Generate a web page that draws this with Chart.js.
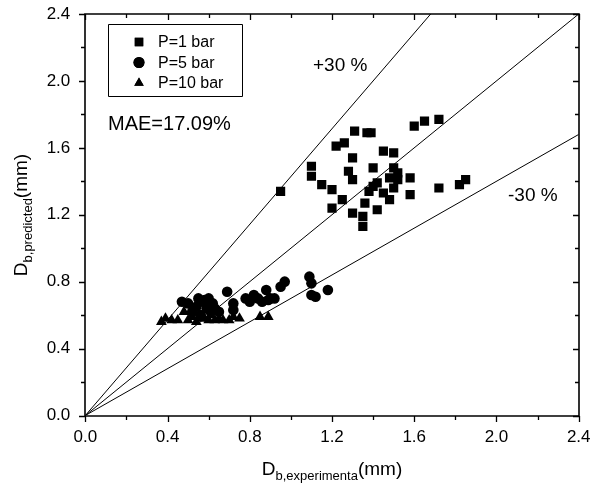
<!DOCTYPE html>
<html>
<head>
<meta charset="utf-8">
<script src="https://cdn.jsdelivr.net/npm/chart.js@4.4.1/dist/chart.umd.min.js"></script>
<style>
  body { margin: 0; background: #fff; }
  #wrap { width: 592px; height: 492px; position: relative; }
</style>
</head>
<body>
<div id="wrap"><canvas id="chart"></canvas></div>
<script>
// axis ticks
const tickValues = [0.0, 0.4, 0.8, 1.2, 1.6, 2.0, 2.4];

// P = 1 bar (squares)
const p1X = [0.95, 1.10, 1.10, 1.15, 1.20, 1.20, 1.25, 1.22, 1.26, 1.31, 1.37, 1.39, 1.30, 1.28, 1.30, 1.30, 1.35, 1.35, 1.36, 1.38, 1.40, 1.42, 1.40, 1.42, 1.45, 1.48, 1.45, 1.50, 1.50, 1.52, 1.48, 1.52, 1.50, 1.58, 1.58, 1.60, 1.65, 1.72, 1.72, 1.82, 1.85];
const p1Y = [1.34, 1.49, 1.43, 1.38, 1.35, 1.24, 1.29, 1.61, 1.63, 1.70, 1.69, 1.69, 1.54, 1.46, 1.41, 1.21, 1.19, 1.13, 1.27, 1.34, 1.37, 1.39, 1.48, 1.23, 1.33, 1.29, 1.58, 1.57, 1.48, 1.45, 1.42, 1.41, 1.36, 1.42, 1.32, 1.73, 1.76, 1.77, 1.36, 1.38, 1.41];

// P = 5 bar (circles)
const p5X = [0.47, 0.50, 0.52, 0.54, 0.55, 0.56, 0.57, 0.58, 0.59, 0.60, 0.61, 0.62, 0.63, 0.65, 0.69, 0.72, 0.72, 0.78, 0.80, 0.82, 0.84, 0.86, 0.88, 0.89, 0.90, 0.92, 0.95, 0.97, 1.09, 1.10, 1.10, 1.12, 1.18];
const p5Y = [0.68, 0.67, 0.62, 0.65, 0.70, 0.60, 0.68, 0.69, 0.64, 0.70, 0.62, 0.67, 0.64, 0.62, 0.74, 0.67, 0.63, 0.70, 0.68, 0.72, 0.70, 0.68, 0.75, 0.69, 0.70, 0.70, 0.77, 0.80, 0.83, 0.79, 0.72, 0.71, 0.75];

// P = 10 bar (triangles)
const p10X = [0.37, 0.39, 0.42, 0.45, 0.48, 0.50, 0.52, 0.54, 0.56, 0.58, 0.60, 0.61, 0.63, 0.65, 0.67, 0.70, 0.72, 0.75, 0.85, 0.89];
const p10Y = [0.56, 0.58, 0.57, 0.57, 0.62, 0.57, 0.59, 0.56, 0.58, 0.58, 0.57, 0.60, 0.57, 0.58, 0.57, 0.57, 0.59, 0.58, 0.59, 0.59];

// reference lines: y = x/0.7, y = x, y = 0.7x (end points)
const lineX = [0, 2.4];
const plusLineY = [0, 3.4286];
const equalLineY = [0, 2.4];
const minusLineY = [0, 1.68];

const FONT = '"Liberation Sans", Arial, sans-serif';

function toPoints(xs, ys) {
    return xs.map((x, i) => ({ x: x, y: ys[i] }));
}

// frame, tick marks, titles, legend and text labels
const decorations = {
    id: 'decorations',
    afterDraw(chart) {
        const ctx = chart.ctx;
        const xs = chart.scales.x;
        const ys = chart.scales.y;
        const L = Math.round(xs.getPixelForValue(0)), R = Math.round(xs.getPixelForValue(2.4));
        const B = Math.round(ys.getPixelForValue(0)), T = Math.round(ys.getPixelForValue(2.4));
        ctx.save();
        ctx.fillStyle = '#000000';
        ctx.strokeStyle = '#000000';

        // frame
        ctx.lineWidth = 1.6;
        ctx.beginPath();
        ctx.rect(L, T, R - L, B - T);
        ctx.stroke();

        // tick marks every 0.2, longer on labelled values
        ctx.lineWidth = 1.3;
        ctx.beginPath();
        for (let i = 0; i <= 12; i++) {
            const len = i % 2 === 0 ? 6 : 4;
            const px = Math.round(xs.getPixelForValue(i * 0.2)) + 0.5;
            const py = Math.round(ys.getPixelForValue(i * 0.2)) + 0.5;
            ctx.moveTo(px, B); ctx.lineTo(px, B + len);
            ctx.moveTo(px, T); ctx.lineTo(px, T + len);
            ctx.moveTo(L, py); ctx.lineTo(L - len, py);
            ctx.moveTo(R, py); ctx.lineTo(R - len, py);
        }
        ctx.stroke();

        // x title with subscript
        const cx = (L + R) / 2;
        const parts = [
            { t: 'D', f: '19px ' + FONT, dy: 0 },
            { t: 'b,experimenta', f: '13px ' + FONT, dy: 5 },
            { t: '(mm)', f: '19px ' + FONT, dy: 0 }
        ];
        let total = 0;
        parts.forEach(p => { ctx.font = p.f; p.w = ctx.measureText(p.t).width; total += p.w; });
        ctx.textBaseline = 'alphabetic';
        ctx.textAlign = 'left';
        let x0 = cx - total / 2;
        parts.forEach(p => { ctx.font = p.f; ctx.fillText(p.t, x0, 475 + p.dy); x0 += p.w; });

        // y title, rotated
        const yparts = [
            { t: 'D', f: '19px ' + FONT, dy: 0 },
            { t: 'b,predicted', f: '13px ' + FONT, dy: 5 },
            { t: '(mm)', f: '19px ' + FONT, dy: 0 }
        ];
        total = 0;
        yparts.forEach(p => { ctx.font = p.f; p.w = ctx.measureText(p.t).width; total += p.w; });
        ctx.save();
        ctx.translate(27, (T + B) / 2);
        ctx.rotate(-Math.PI / 2);
        x0 = -total / 2;
        yparts.forEach(p => { ctx.font = p.f; ctx.fillText(p.t, x0, p.dy); x0 += p.w; });
        ctx.restore();

        // legend box
        ctx.lineWidth = 1;
        ctx.beginPath();
        ctx.rect(108.5, 24.5, 134, 72);
        ctx.stroke();
        const rows = [
            { label: 'P=1 bar', style: 'rect', y: 42 },
            { label: 'P=5 bar', style: 'circle', y: 62.5 },
            { label: 'P=10 bar', style: 'triangle', y: 83 }
        ];
        rows.forEach(r => {
            Chart.helpers.drawPoint(ctx, { pointStyle: r.style, radius: r.style === 'rect' ? 6 : 5.5, borderWidth: 0 }, 139, r.y);
            ctx.fill();
            ctx.font = '16px ' + FONT;
            ctx.textBaseline = 'middle';
            ctx.fillText(r.label, 158, r.y + 1);
        });

        // text labels
        ctx.textBaseline = 'middle';
        ctx.font = '20px ' + FONT;
        ctx.fillText('MAE=17.09%', 108, 124);
        ctx.font = '19px ' + FONT;
        ctx.fillText('+30 %', 313, 66);
        ctx.fillText('-30 %', 508, 196);

        ctx.restore();
    }
};

const refLine = (ys) => ({
    type: 'line',
    data: toPoints(lineX, ys),
    borderColor: '#000',
    borderWidth: 1,
    pointRadius: 0,
    fill: false,
    order: 5
});

const marker = (xs, ys, style, r) => ({
    type: 'scatter',
    data: toPoints(xs, ys),
    pointStyle: style,
    pointRadius: r,
    backgroundColor: '#000',
    borderColor: '#000',
    borderWidth: 0,
    order: 1
});

new Chart(document.getElementById('chart'), {
    type: 'scatter',
    data: {
        datasets: [
            marker(p1X, p1Y, 'rect', 6.5),
            marker(p5X, p5Y, 'circle', 5.3),
            marker(p10X, p10Y, 'triangle', 6.2),
            refLine(plusLineY),
            refLine(equalLineY),
            refLine(minusLineY)
        ]
    },
    options: {
        responsive: true,
        maintainAspectRatio: false,
        animation: false,
        layout: { padding: { top: 14, right: 13.3, left: 0, bottom: 0 } },
        plugins: {
            legend: { display: false },
            tooltip: { enabled: false }
        },
        scales: {
            x: {
                type: 'linear',
                min: 0,
                max: 2.4,
                afterBuildTicks: s => { s.ticks = tickValues.map(v => ({ value: v })); },
                afterFit: s => { s.height = 76.5; s.paddingLeft = 0; s.paddingRight = 0; },
                ticks: {
                    color: '#000',
                    font: { family: FONT, size: 17 },
                    padding: 12,
                    maxRotation: 0,
                    callback: v => Number(v).toFixed(1)
                },
                grid: { display: false, drawTicks: false },
                border: { display: false }
            },
            y: {
                type: 'linear',
                min: 0,
                max: 2.4,
                afterBuildTicks: s => { s.ticks = tickValues.map(v => ({ value: v })); },
                afterFit: s => { s.width = 85.3; s.paddingTop = 0; s.paddingBottom = 0; },
                ticks: {
                    color: '#000',
                    font: { family: FONT, size: 17 },
                    padding: 15,
                    callback: v => Number(v).toFixed(1)
                },
                grid: { display: false, drawTicks: false },
                border: { display: false }
            }
        }
    },
    plugins: [decorations]
});
</script>
</body>
</html>
